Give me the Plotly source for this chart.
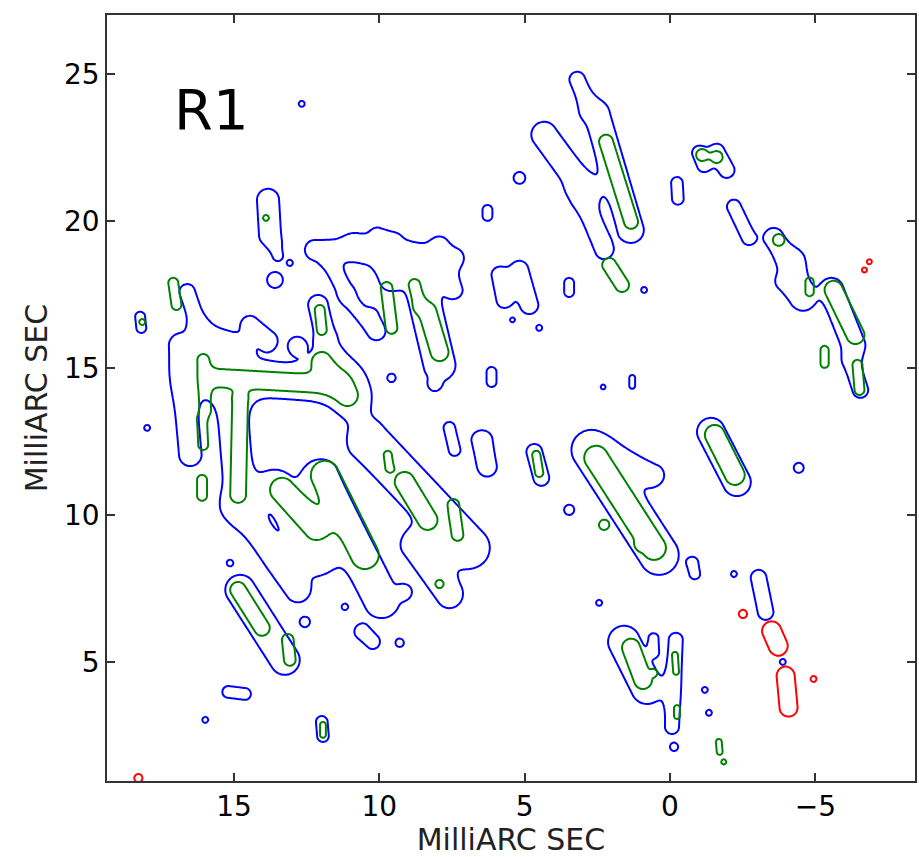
import numpy as np
import plotly.graph_objects as go

blue_comps = [
    (3.19, 24.80, 2.78, 23.84, 0.27), (2.51, 23.61, 1.34, 19.69, 0.44),
    (4.33, 22.93, 2.95, 21.05, 0.44), (3.12, 21.05, 2.27, 19.01, 0.31),
    (5.18, 21.46, 5.18, 21.46, 0.20), (6.28, 20.37, 6.28, 20.17, 0.17),
    (-0.24, 21.29, -0.27, 20.75, 0.20), (-1.00, 22.31, -1.17, 21.90, 0.24),
    (-1.61, 22.35, -1.95, 21.73, 0.27), (-2.20, 20.48, -2.71, 19.42, 0.24),
    (-3.57, 19.42, -4.08, 18.61, 0.34), (-4.25, 18.61, -4.60, 17.31, 0.34),
    (-3.91, 17.93, -4.43, 17.48, 0.27), (-5.56, 17.65, -6.31, 15.78, 0.41),
    (-6.24, 15.20, -6.55, 14.25, 0.27), (-1.41, 12.82, -2.30, 11.12, 0.48),
    (2.71, 12.21, 0.38, 8.64, 0.68), (2.09, 12.04, 0.55, 11.36, 0.34),
    (4.67, 12.14, 4.43, 11.26, 0.27), (6.56, 12.55, 6.28, 11.60, 0.24),
    (3.47, 10.17, 3.47, 10.17, 0.17), (-0.79, 8.37, -0.86, 7.99, 0.17),
    (-3.05, 7.86, -3.29, 6.70, 0.27), (1.58, 5.68, 0.79, 4.12, 0.55),
    (0.55, 5.82, 0.55, 5.34, 0.14), (-0.20, 5.75, -0.07, 2.79, 0.24),
    (-0.14, 2.11, -0.14, 2.11, 0.14), (-1.20, 4.05, -1.20, 4.05, 0.10),
    (-1.34, 3.27, -1.34, 3.27, 0.10), (2.44, 7.01, 2.44, 7.01, 0.10),
    (-2.20, 7.99, -2.20, 7.99, 0.10), (-3.88, 5.00, -3.88, 5.00, 0.10),
    (-4.43, 11.60, -4.43, 11.60, 0.17), (5.87, 18.16, 5.70, 17.31, 0.27),
    (5.18, 18.33, 4.84, 17.14, 0.31), (3.47, 17.89, 3.47, 17.58, 0.17),
    (0.89, 17.65, 0.89, 17.65, 0.10), (5.42, 16.63, 5.42, 16.63, 0.08),
    (4.50, 16.36, 4.50, 16.36, 0.10), (6.14, 14.86, 6.14, 14.52, 0.17),
    (2.30, 14.35, 2.30, 14.35, 0.08), (1.30, 14.66, 1.30, 14.39, 0.10),
    (12.67, 23.98, 12.67, 23.98, 0.10), (13.83, 20.71, 13.76, 19.52, 0.38),
    (13.59, 19.15, 13.49, 18.81, 0.17), (13.59, 17.99, 13.59, 17.99, 0.27),
    (13.08, 18.57, 13.08, 18.57, 0.10), (18.23, 16.74, 18.19, 16.36, 0.17),
    (16.61, 17.58, 16.17, 16.29, 0.27), (16.17, 16.29, 14.79, 15.61, 0.31),
    (14.45, 16.46, 13.83, 15.95, 0.31), (12.84, 15.78, 12.84, 15.78, 0.27),
    (12.22, 19.01, 10.67, 19.01, 0.34), (10.85, 19.18, 9.30, 18.74, 0.34),
    (9.30, 19.01, 7.41, 18.74, 0.31), (11.70, 18.61, 11.19, 17.65, 0.27),
    (9.99, 18.84, 9.65, 17.99, 0.34), (7.93, 19.18, 7.41, 17.65, 0.27),
    (12.11, 17.14, 11.87, 16.12, 0.34), (8.62, 17.99, 7.93, 15.10, 0.55),
    (10.06, 19.52, 9.54, 19.35, 0.24), (8.10, 14.42, 8.10, 14.42, 0.17),
    (9.58, 14.66, 9.58, 14.66, 0.14), (11.02, 17.31, 10.16, 16.29, 0.25),
    (16.85, 15.78, 16.51, 12.04, 0.38), (15.20, 15.44, 14.79, 10.34, 0.52),
    (16.17, 14.76, 11.19, 14.42, 0.62), (11.70, 15.27, 10.95, 13.98, 0.52),
    (14.86, 10.34, 12.80, 7.45, 0.42), (13.59, 11.02, 12.11, 8.47, 0.50),
    (12.05, 11.26, 9.92, 7.11, 0.62), (10.40, 12.55, 6.90, 8.88, 0.70),
    (8.79, 8.98, 7.59, 7.28, 0.45), (6.38, 12.55, 6.31, 11.70, 0.24),
    (7.59, 12.96, 7.41, 12.21, 0.20), (14.79, 7.45, 13.25, 5.07, 0.51),
    (12.56, 6.36, 12.56, 6.36, 0.17), (11.19, 6.87, 11.19, 6.87, 0.10),
    (15.14, 8.37, 15.14, 8.37, 0.10), (9.30, 5.65, 9.30, 5.65, 0.14),
    (10.61, 6.02, 10.23, 5.68, 0.24), (15.20, 3.98, 14.62, 3.91, 0.20),
    (15.99, 3.03, 15.99, 3.03, 0.10), (11.98, 2.96, 11.94, 2.48, 0.20),
    (17.99, 12.96, 17.99, 12.96, 0.10), (9.13, 7.38, 9.13, 7.38, 0.20),
    (10.26, 16.80, 10.06, 16.22, 0.20),
]

green_comps = [
    (2.20, 22.69, 1.34, 19.97, 0.24), (2.09, 18.50, 1.65, 17.82, 0.24),
    (-1.10, 22.24, -1.10, 22.24, 0.20), (-1.61, 22.17, -1.61, 22.17, 0.20),
    (-3.74, 19.35, -3.74, 19.35, 0.20), (-4.80, 17.93, -4.80, 17.58, 0.14),
    (-5.63, 17.65, -6.38, 16.12, 0.31), (-5.32, 15.61, -5.32, 15.14, 0.14),
    (-6.45, 15.10, -6.52, 14.25, 0.17), (-1.54, 12.72, -2.23, 11.36, 0.34),
    (2.54, 11.94, 0.55, 8.88, 0.41), (4.60, 12.04, 4.50, 11.43, 0.14),
    (2.27, 9.66, 2.27, 9.66, 0.17), (1.00, 8.98, 1.00, 8.98, 0.14),
    (1.34, 5.48, 0.93, 4.39, 0.31), (0.55, 4.63, 0.55, 4.63, 0.10),
    (-0.17, 5.24, -0.21, 4.66, 0.10), (-0.24, 3.43, -0.24, 3.16, 0.10),
    (-1.68, 2.28, -1.71, 1.94, 0.10), (-1.85, 1.60, -1.85, 1.60, 0.085),
    (11.94, 2.86, 11.94, 2.52, 0.10), (17.09, 17.89, 16.98, 17.14, 0.17),
    (18.16, 16.56, 18.16, 16.56, 0.10), (13.90, 20.10, 13.90, 20.10, 0.10),
    (9.75, 17.72, 9.58, 16.36, 0.20), (8.79, 17.82, 8.62, 17.14, 0.20),
    (8.34, 16.90, 7.93, 15.54, 0.31), (12.05, 16.97, 11.98, 16.29, 0.17),
    (16.06, 15.27, 15.99, 13.57, 0.20), (16.10, 13.23, 16.06, 12.38, 0.17),
    (16.10, 11.19, 16.10, 10.65, 0.17), (14.79, 13.91, 14.86, 10.68, 0.27),
    (15.65, 14.66, 11.36, 14.42, 0.31), (11.98, 15.20, 11.09, 14.05, 0.34),
    (13.35, 10.85, 12.18, 9.56, 0.41), (11.87, 11.36, 10.50, 8.64, 0.48),
    (9.13, 11.12, 8.34, 9.83, 0.34), (7.45, 10.34, 7.31, 9.32, 0.20),
    (7.93, 7.65, 7.93, 7.65, 0.14), (14.86, 7.45, 14.04, 6.16, 0.27),
    (13.15, 5.75, 13.08, 5.07, 0.20), (9.71, 12.04, 9.65, 11.60, 0.14),
]

red_comps = [
    (-3.50, 6.05, -3.72, 5.55, 0.33), (-3.98, 4.52, -4.08, 3.45, 0.31),
    (-2.51, 6.63, -2.51, 6.63, 0.14), (-4.94, 4.42, -4.94, 4.42, 0.10),
    (-6.86, 18.61, -6.86, 18.61, 0.085), (-6.69, 18.33, -6.69, 18.33, 0.085),
    (18.29, 1.05, 18.29, 1.05, 0.14),
]

x_ticks = [15, 10, 5, 0, -5]
x_tick_labels = ["15", "10", "5", "0", "\u22125"]
y_ticks = [5, 10, 15, 20, 25]
y_tick_labels = ["5", "10", "15", "20", "25"]
x_range = [19.37, -8.43]
y_range = [0.95, 27.0]
axis_title = "MilliARC SEC"
panel_label = "R1"

# sampling grid
gx = np.arange(-8.6, 19.65, 0.05)
gy = np.arange(0.8, 27.2, 0.05)
GX, GY = np.meshgrid(gx, gy)


def field(comps):
    z = np.zeros_like(GX)
    for x1, y1, x2, y2, w in comps:
        dx, dy = x2 - x1, y2 - y1
        L2 = dx * dx + dy * dy
        if L2 > 0:
            t = np.clip(((GX - x1) * dx + (GY - y1) * dy) / L2, 0, 1)
        else:
            t = 0.0
        px = x1 + t * dx
        py = y1 + t * dy
        d2 = (GX - px) ** 2 + (GY - py) ** 2
        sig = w / 1.1774
        z += np.exp(-d2 / (2 * sig * sig))
    return z.astype(np.float32)


fig = go.Figure()
for comps, col in [(blue_comps, "#0000ff"), (green_comps, "#008000"), (red_comps, "#ff0000")]:
    fig.add_trace(go.Contour(
        x=gx, y=gy, z=field(comps),
        autocontour=False,
        contours=dict(start=0.5, end=0.5, size=1, coloring="lines"),
        colorscale=[[0, col], [1, col]],
        line=dict(width=2, smoothing=0.8),
        showscale=False, hoverinfo="skip",
    ))

axis_common = dict(
    ticks="inside", ticklen=8, tickwidth=1.5, tickcolor="#333",
    showline=True, linecolor="#333", linewidth=1.5, mirror="ticks",
    showgrid=False, zeroline=False,
    tickfont=dict(family="DejaVu Sans", size=28, color="black"),
)
fig.update_xaxes(range=x_range, tickvals=x_ticks, ticktext=x_tick_labels,
                 title=dict(text=axis_title, font=dict(family="DejaVu Sans", size=30, color="#222"), standoff=8),
                 **axis_common)
fig.update_yaxes(range=y_range, tickvals=y_ticks, ticktext=y_tick_labels,
                 title=dict(text=axis_title, font=dict(family="DejaVu Sans", size=30, color="#222"), standoff=8),
                 **axis_common)

fig.add_annotation(x=17.15, y=23.8, xref="x", yref="y", text=panel_label, showarrow=False,
                   xanchor="left", yanchor="middle",
                   font=dict(family="DejaVu Sans", size=56, color="black"))

fig.update_layout(
    width=919, height=857,
    margin=dict(l=107, r=2, t=15, b=76),
    plot_bgcolor="white", paper_bgcolor="white",
    showlegend=False,
)

fig.write_html("out.html")
